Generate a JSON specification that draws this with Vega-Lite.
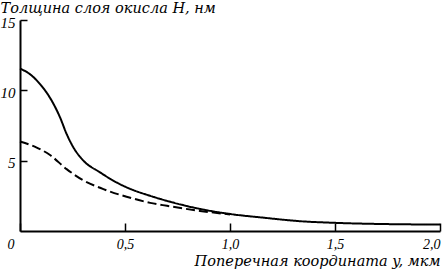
{
  "$schema": "https://vega.github.io/schema/vega-lite/v6.json",
  "width": 420,
  "height": 211,
  "autosize": {"type": "none"},
  "padding": {"left": 20, "top": 20, "right": 2, "bottom": 38},
  "background": "white",
  "config": {"view": {"stroke": null}, "font": "Liberation Serif"},
  "data": {"values": [
    {"y": 0.0, "h": 11.55, "s": "solid"},
    {"y": 0.054, "h": 11.07, "s": "solid"},
    {"y": 0.10, "h": 10.36, "s": "solid"},
    {"y": 0.133, "h": 9.7, "s": "solid"},
    {"y": 0.159, "h": 9.05, "s": "solid"},
    {"y": 0.19, "h": 8.1, "s": "solid"},
    {"y": 0.222, "h": 6.9, "s": "solid"},
    {"y": 0.254, "h": 5.95, "s": "solid"},
    {"y": 0.302, "h": 5.0, "s": "solid"},
    {"y": 0.381, "h": 4.17, "s": "solid"},
    {"y": 0.46, "h": 3.45, "s": "solid"},
    {"y": 0.524, "h": 3.0, "s": "solid"},
    {"y": 0.62, "h": 2.5, "s": "solid"},
    {"y": 0.70, "h": 2.14, "s": "solid"},
    {"y": 0.857, "h": 1.57, "s": "solid"},
    {"y": 1.0, "h": 1.21, "s": "solid"},
    {"y": 1.17, "h": 0.93, "s": "solid"},
    {"y": 1.33, "h": 0.7, "s": "solid"},
    {"y": 1.5, "h": 0.58, "s": "solid"},
    {"y": 1.75, "h": 0.49, "s": "solid"},
    {"y": 2.0, "h": 0.46, "s": "solid"},
    {"y": 0.0, "h": 6.36, "s": "dashed"},
    {"y": 0.07, "h": 6.0, "s": "dashed"},
    {"y": 0.143, "h": 5.4, "s": "dashed"},
    {"y": 0.222, "h": 4.4, "s": "dashed"},
    {"y": 0.302, "h": 3.6, "s": "dashed"},
    {"y": 0.397, "h": 2.98, "s": "dashed"},
    {"y": 0.54, "h": 2.3, "s": "dashed"},
    {"y": 0.62, "h": 2.0, "s": "dashed"},
    {"y": 0.70, "h": 1.79, "s": "dashed"},
    {"y": 0.857, "h": 1.43, "s": "dashed"},
    {"y": 1.0, "h": 1.18, "s": "dashed"}
  ]},
  "mark": {"type": "line", "interpolate": "monotone", "color": "black", "strokeWidth": 2},
  "encoding": {
    "x": {
      "field": "y", "type": "quantitative",
      "scale": {"domain": [0, 2], "nice": false},
      "axis": {
        "values": [0, 0.5, 1, 1.5, 2],
        "grid": false,
        "domainColor": "black", "domainWidth": 2,
        "tickColor": "black", "tickWidth": 1.5, "tickSize": -8,
        "labelExpr": "datum.value == 0 ? '0' : replace(format(datum.value, '.1f'), '.', ',')",
        "labelFont": "Liberation Serif, Times New Roman, serif", "labelFontStyle": "italic", "labelFontSize": 14, "labelColor": "black",
        "labelAlign": {"condition": {"test": "datum.value == 0 || datum.value == 2", "value": "right"}, "value": "center"},
        "labelOffset": {"condition": {"test": "datum.value == 0", "value": -6}, "value": 0},
        "labelPadding": 14,
        "labelFlush": false,
        "labelOverlap": false,
        "title": "Поперечная координата y, мкм",
        "titleFont": "DejaVu Serif", "titleFontStyle": "italic", "titleFontWeight": "normal", "titleFontSize": 14.5, "titleColor": "black",
        "titleAlign": "right", "titleAnchor": null, "titleX": 420, "titleY": 34, "titleBaseline": "alphabetic"
      }
    },
    "y": {
      "field": "h", "type": "quantitative",
      "scale": {"domain": [0, 15], "nice": false},
      "axis": {
        "values": [5, 10, 15],
        "grid": false,
        "domainColor": "black", "domainWidth": 2,
        "tickColor": "black", "tickWidth": 1.5, "tickSize": -7,
        "labelFont": "Liberation Serif, Times New Roman, serif", "labelFontStyle": "italic", "labelFontSize": 15, "labelColor": "black",
        "labelPadding": 12, "labelOffset": 2,
        "title": "Толщина слоя окисла H, нм",
        "titleFont": "DejaVu Serif", "titleFontStyle": "italic", "titleFontWeight": "normal", "titleFontSize": 14.5, "titleColor": "black",
        "titleAngle": 0, "titleAlign": "left", "titleAnchor": null, "titleX": -20, "titleY": -8, "titleBaseline": "alphabetic"
      }
    },
    "strokeDash": {
      "field": "s", "type": "nominal",
      "scale": {"domain": ["solid", "dashed"], "range": [[1, 0], [9, 4]]},
      "legend": null
    }
  }
}
